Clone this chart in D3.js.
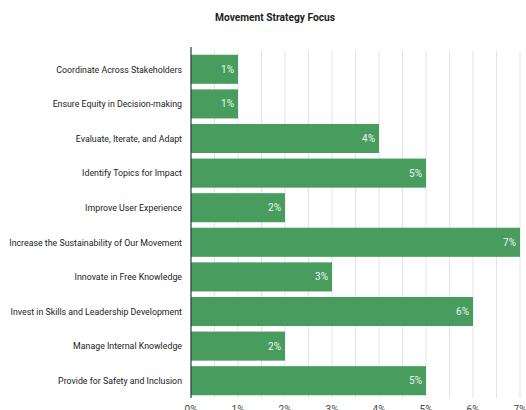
<!DOCTYPE html>
<html>
<head>
<meta charset="utf-8">
<script src="https://cdn.jsdelivr.net/npm/d3@7"></script>
<style>
  body { margin: 0; background: #fff; }
  svg { display: block; font-family: Roboto, "Noto Sans", sans-serif; }
</style>
</head>
<body>
<svg width="526" height="410"></svg>
<script>
// chart data
const categories = [
  "Coordinate Across Stakeholders",
  "Ensure Equity in Decision-making",
  "Evaluate, Iterate, and Adapt",
  "Identify Topics for Impact",
  "Improve User Experience",
  "Increase the Sustainability of Our Movement",
  "Innovate in Free Knowledge",
  "Invest in Skills and Leadership Development",
  "Manage Internal Knowledge",
  "Provide for Safety and Inclusion"
];
const shares = [1, 1, 4, 5, 2, 7, 3, 6, 2, 5];
const xTicks = [0, 1, 2, 3, 4, 5, 6, 7];
const gridSteps = d3.range(0, 7.01, 0.5);

const svg = d3.select("svg");
const plotLeft = 191, plotRight = 520, plotTop = 52, plotBottom = 398;

const x = d3.scaleLinear().domain([0, 7]).range([plotLeft, plotRight]);
const y = d3.scaleBand().domain(categories).range([plotTop, plotBottom]).paddingInner(0.16).paddingOuter(0.08);

svg.append("text")
  .attr("x", 275).attr("y", 21)
  .attr("text-anchor", "middle")
  .style("font-size", "10.2px").style("font-weight", "bold")
  .attr("fill", "#222")
  .text("Movement Strategy Focus");

// gridlines every half step
svg.append("g").selectAll("line")
  .data(gridSteps.filter(d => d > 0)).enter()
  .append("line")
  .attr("x1", d => x(d)).attr("x2", d => x(d))
  .attr("y1", 51).attr("y2", plotBottom)
  .attr("stroke", "#e3e3e3").attr("stroke-width", 1);

svg.append("g").selectAll("rect")
  .data(shares).enter()
  .append("rect")
  .attr("x", x(0))
  .attr("y", (d, i) => y(categories[i]))
  .attr("width", d => x(d) - x(0))
  .attr("height", y.bandwidth())
  .attr("fill", "#489d5e");

svg.append("g").selectAll("text")
  .data(shares).enter()
  .append("text")
  .attr("x", d => x(d) - 4)
  .attr("y", (d, i) => y(categories[i]) + y.bandwidth() / 2 + 3.5)
  .attr("text-anchor", "end")
  .style("font-size", "10px")
  .attr("fill", "#eef4ef")
  .text(d => d + "%");

svg.append("g").selectAll("text")
  .data(categories).enter()
  .append("text")
  .attr("x", 182)
  .attr("y", d => y(d) + y.bandwidth() / 2 + 3.2)
  .attr("text-anchor", "end")
  .style("font-size", "8.8px")
  .attr("fill", "#222")
  .text(d => d);

// baseline
svg.append("line")
  .attr("x1", x(0)).attr("x2", x(0))
  .attr("y1", 47).attr("y2", plotBottom)
  .attr("stroke", "#333").attr("stroke-width", 1.2);

svg.append("g").selectAll("text")
  .data(xTicks).enter()
  .append("text")
  .attr("x", d => x(d))
  .attr("y", 413)
  .attr("text-anchor", "middle")
  .style("font-size", "10px")
  .attr("fill", "#444")
  .text(d => d + "%");
</script>
</body>
</html>
